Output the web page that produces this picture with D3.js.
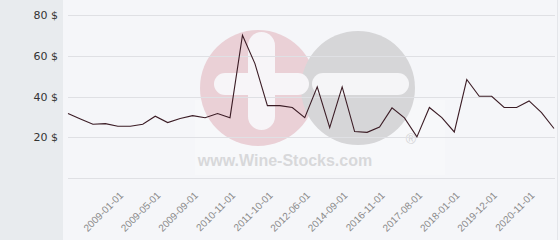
<!DOCTYPE html>
<html><head><meta charset="utf-8">
<script src="https://cdn.jsdelivr.net/npm/d3@7"></script>
<style>
html,body{margin:0;padding:0;background:#fff;}
svg{display:block;}
</style></head>
<body>
<svg id="c" width="560" height="240"></svg>
<script>
const prices = [31.7, 29.1, 26.5, 26.8, 25.5, 25.5, 26.5, 30.4, 27.3, 29.3,
  30.7, 29.7, 31.7, 29.7, 70.1, 56.2, 35.6, 35.6, 34.7, 29.7,
  44.8, 24.8, 44.8, 22.9, 22.5, 25.1, 34.5, 29.6, 20.3, 34.7,
  29.7, 22.7, 48.4, 40.2, 40.2, 34.7, 34.7, 37.9, 32.2, 24.4];
const tickLabels = ["2009-01-01","2009-05-01","2009-09-01","2010-11-01","2011-10-01","2012-06-01",
  "2014-09-01","2016-11-01","2017-08-01","2018-01-01","2019-12-01","2020-11-01"];
const tickIndex = [4,7,10,13,16,19,22,25,28,31,34,37];
const yTicks = [20,40,60,80];

const svg = d3.select("#c");
const W=560,H=240;
const plotL=63, gridL=68, gridR=555;
const x = d3.scaleLinear().domain([0, prices.length-1]).range([68, 554]);
const y = d3.scaleLinear().domain([0, 80]).range([178.3, 15]);

// backgrounds
svg.append("rect").attr("x",0).attr("y",0).attr("width",plotL).attr("height",H).attr("fill","#e8ebee");
svg.append("rect").attr("x",plotL).attr("y",0).attr("width",W-plotL).attr("height",H).attr("fill","#f5f6f9");
svg.append("line").attr("x1",557.5).attr("x2",557.5).attr("y1",0).attr("y2",H).attr("stroke","#e4e6ea");

// watermark
const wm = svg.append("g");
wm.append("rect").attr("x",195).attr("y",100).attr("width",250).attr("height",75).attr("fill","#f7f8fa");
wm.append("circle").attr("cx",258).attr("cy",88).attr("r",58).attr("fill","#ead0d6");
wm.append("rect").attr("x",248).attr("y",32).attr("width",27).attr("height",98).attr("rx",13.5).attr("fill","#f7f5f8");
wm.append("circle").attr("cx",358).attr("cy",88).attr("r",57).attr("fill","#d6d6d8");
wm.append("rect").attr("x",214).attr("y",73).attr("width",95).attr("height",22).attr("rx",11).attr("fill","#f7f5f8");
wm.append("rect").attr("x",312).attr("y",73).attr("width",97).attr("height",22).attr("rx",11).attr("fill","#f5f5f7");
wm.append("text").attr("x",285).attr("y",166).attr("text-anchor","middle")
  .attr("font-family","Liberation Sans, Arial, sans-serif").attr("font-weight","bold").attr("font-size",16)
  .attr("fill","#d8d8da").text("www.Wine-Stocks.com");
wm.append("text").attr("x",411).attr("y",144).attr("text-anchor","middle")
  .attr("font-family","Liberation Sans, Arial, sans-serif").attr("font-size",14)
  .attr("fill","#d4d4d6").text("®");

// grid
svg.append("g").selectAll("line").data([0].concat(yTicks)).join("line")
  .attr("x1",gridL).attr("x2",gridR)
  .attr("y1",d=>Math.round(y(d))+0.5).attr("y2",d=>Math.round(y(d))+0.5)
  .attr("stroke","#dfe0e4").attr("stroke-width",1);

// y labels
svg.append("g").selectAll("text").data(yTicks).join("text")
  .attr("x",58).attr("y",d=>y(d)+4).attr("text-anchor","end")
  .attr("font-family","DejaVu Sans, sans-serif").attr("font-size",11).attr("fill","#333")
  .text(d=>d+" $");

// x labels
svg.append("g").selectAll("text").data(tickLabels).join("text")
  .attr("transform",(d,i)=>`translate(${x(tickIndex[i])+6},196) rotate(-45)`)
  .attr("text-anchor","end")
  .attr("font-family","Liberation Sans, Arial, sans-serif").attr("font-size",10).attr("fill","#8a8a8a")
  .text(d=>d);

// line
const line = d3.line().x((d,i)=>x(i)).y(d=>y(d));
svg.append("path").datum(prices).attr("d",line).attr("fill","none")
  .attr("stroke","#3b1c25").attr("stroke-width",1.1).attr("stroke-linejoin","miter");
</script>
</body></html>
